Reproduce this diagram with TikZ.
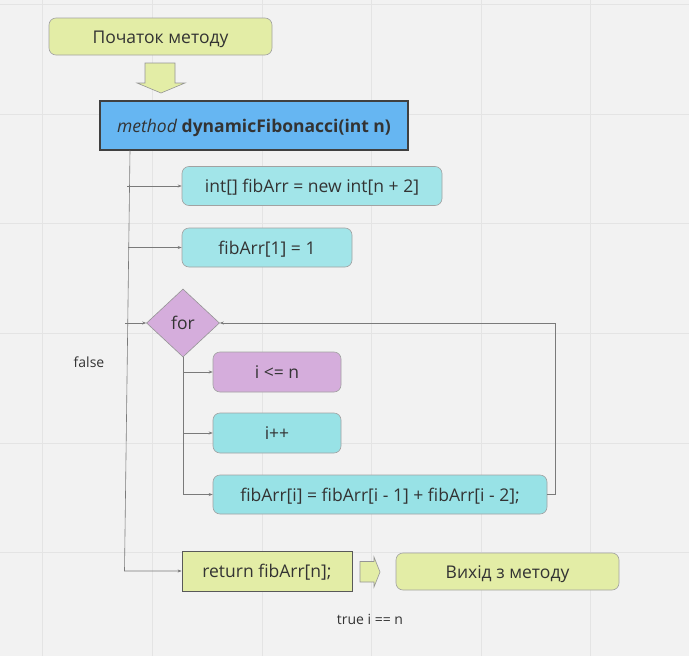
\documentclass[tikz,border=0pt]{standalone}
\usepackage{fontspec}
\setmainfont{Open Sans}
\usetikzlibrary{shapes.geometric,arrows.meta}
\definecolor{bgc}{HTML}{F2F2F2}
\definecolor{gridc}{HTML}{E4E4E4}
\definecolor{yel}{HTML}{E3EDA6}
\definecolor{blu}{HTML}{66B6F2}
\definecolor{cya}{HTML}{A2E5E9}
\definecolor{cyb}{HTML}{98E2E6}
\definecolor{pur}{HTML}{D5ADDC}
\definecolor{txt}{HTML}{333333}
\definecolor{linec}{HTML}{7A7A7A}
\begin{document}
\begin{tikzpicture}[x=1pt,y=-1pt,
  every node/.style={text=txt,font=\fontsize{17.5}{21}\selectfont,inner sep=0pt},
  boxtext/.style={text height=13pt,text depth=0pt},
  rbox/.style={boxtext,draw=linec!70,line width=0.6pt,rounded corners=7pt},
  startbox/.style={rbox,fill=yel},
  cyanbox/.style={rbox,fill=cya},
  cyanboxb/.style={rbox,fill=cyb},
  purbox/.style={rbox,fill=pur},
  retbox/.style={boxtext,draw=black!65,line width=0.8pt,fill=yel},
  methbox/.style={boxtext,draw=black!75,line width=1.2pt,fill=blu},
  decision/.style={diamond,draw=linec!80,line width=0.6pt,fill=pur,aspect=1.07,minimum width=73pt,minimum height=68pt},
  conn/.style={draw=linec,line width=0.6pt,-{Stealth[length=4pt,width=3pt]}},
  plain/.style={draw=linec,line width=0.6pt},
  blockarrow/.style={draw=linec!80,line width=0.6pt,fill=yel},
  small/.style={font=\fontsize{14}{17}\selectfont}
]
\useasboundingbox (0,0) rectangle (689,656);
\fill[bgc] (0,0) rectangle (689,656);
\foreach \x in {42,152,262,371,481,590} \draw[gridc,line width=1pt] (\x,0) -- (\x,656);
\foreach \y in {4,114,223,333,443,552} \draw[gridc,line width=1pt] (0,\y) -- (689,\y);

\node[startbox,minimum width=223pt,minimum height=37pt] (start) at (160.5,36.5) {Початок методу};
\draw[blockarrow] (145,63) -- (175,63) -- (175,83) -- (185,83) -- (161,93) -- (137,83) -- (145,83) -- cycle;
\node[methbox,minimum width=308pt,minimum height=49pt] (meth) at (254,125.5) {\textit{method} \textbf{dynamicFibonacci(int n)}};
\node[cyanbox,minimum width=260pt,minimum height=39pt] (init) at (312,186) {int[] fibArr = new int[n + 2]};
\node[cyanbox,minimum width=170pt,minimum height=39pt] (one) at (267,247.5) {fibArr[1] = 1};
\node[decision] (for) at (183,323) {for};
\node[purbox,minimum width=128pt,minimum height=40pt] (cond) at (277,372) {i <= n};
\node[cyanboxb,minimum width=128pt,minimum height=40pt] (inc) at (277,433) {i++};
\node[cyanboxb,minimum width=334pt,minimum height=39pt] (body) at (380,494.5) {fibArr[i] = fibArr[i - 1] + fibArr[i - 2];};
\node[retbox,minimum width=170pt,minimum height=40pt] (ret) at (267,571) {return fibArr[n];};
\draw[blockarrow] (360,561.5) -- (374,561.5) -- (374,557) -- (380,572) -- (374,587) -- (374,582) -- (360,582) -- cycle;
\node[startbox,minimum width=223pt,minimum height=37pt] (exit) at (507.5,571.5) {Вихід з методу};
\node[small] (false) at (89,362) {false};
\node[small] (true) at (370,619) {true i == n};

\coordinate (m0) at (130,150.5);
\coordinate (m1) at (124.5,571);
\coordinate (b1) at (127,186);
\coordinate (b2) at (128,247.5);
\coordinate (b3) at (125,323);
\coordinate (loopc) at (555,323);
\draw[conn] (m0) -- (m1) -- (ret.west);
\draw[conn] (b1) -- (init.west);
\draw[conn] (b2) -- (one.west);
\draw[conn] (b3) -- (for.west);
\draw[conn] (for.south) |- (cond.west);
\draw[conn] (for.south) |- (inc.west);
\draw[conn] (for.south) |- (body.west);
\draw[conn] (body.east) -| (loopc) -- (for.east);
\end{tikzpicture}
\end{document}
